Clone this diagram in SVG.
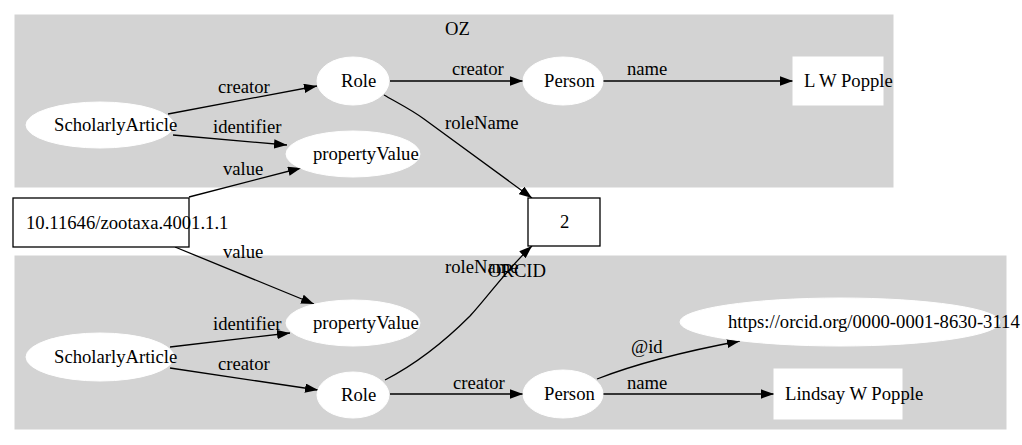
<svg xmlns="http://www.w3.org/2000/svg" width="1022" height="445" viewBox="0 0 1022 445">
<style>
text{font-family:"Liberation Serif","Times New Roman",serif;font-size:18.67px;fill:#000}
.cl{fill:#d3d3d3;stroke:#d3d3d3}
.el{fill:#fff;stroke:#fff}
.wb{fill:#fff;stroke:#fff}
.bb{fill:#fff;stroke:#000;stroke-width:1.3}
.e{fill:none;stroke:#000;stroke-width:1.3;marker-end:url(#ah)}
</style>
<defs>
<marker id="ah" markerUnits="userSpaceOnUse" viewBox="0 0 13 9.4" markerWidth="13" markerHeight="9.4" refX="13" refY="4.7" orient="auto">
<path d="M0,0 L13,4.7 L0,9.4 z" fill="#000"/>
</marker>
</defs>
<rect width="1022" height="445" fill="#fff"/>
<g id="cluster_OZ">
<rect class="cl" x="15" y="15" width="878" height="172"/>
<text x="445" y="35">OZ</text>
</g>
<g id="cluster_ORCID">
<rect class="cl" x="15" y="256" width="991" height="173"/>
<text x="488" y="277">ORCID</text>
</g>
<g id="edges">
<path class="e" d="M168,114 L317,86"/>
<text x="218" y="93">creator</text>
<path class="e" d="M173,135 L287,145"/>
<text x="213" y="133">identifier</text>
<path class="e" d="M189,197 L301,168"/>
<text x="223" y="175">value</text>
<path class="e" d="M390,81 L523,81"/>
<text x="452" y="75">creator</text>
<path class="e" d="M384,95 C398,103 412,110 424,119 L532,198"/>
<text x="445" y="129">roleName</text>
<path class="e" d="M603,81 L793,81"/>
<text x="627" y="75">name</text>
<path class="e" d="M175,247 L314,304"/>
<text x="223" y="258">value</text>
<path class="e" d="M170,347 L290,333"/>
<text x="213" y="330">identifier</text>
<path class="e" d="M170,368 L318,390"/>
<text x="218" y="370">creator</text>
<path class="e" d="M385,380 C420,362 448,338 470,316 C490,294 508,268 532,246"/>
<text x="445" y="273">roleName</text>
<path class="e" d="M390,394 L523,394"/>
<text x="453" y="389">creator</text>
<path class="e" d="M597,379 C620,370 660,356 740,341"/>
<text x="631" y="353">@id</text>
<path class="e" d="M603,394 L774,394"/>
<text x="627" y="389">name</text>
</g>
<g id="oz_ScholarlyArticle"><ellipse class="el" cx="100" cy="125" rx="74" ry="23"/><text x="54" y="131">ScholarlyArticle</text></g>
<g id="oz_Role"><ellipse class="el" cx="353" cy="81" rx="36" ry="24"/><text x="341" y="87">Role</text></g>
<g id="oz_propertyValue"><ellipse class="el" cx="353" cy="154" rx="67" ry="23"/><text x="313" y="160">propertyValue</text></g>
<g id="oz_Person"><ellipse class="el" cx="563" cy="81" rx="40" ry="24"/><text x="544" y="87">Person</text></g>
<g id="oz_name"><rect class="wb" x="793" y="57" width="90" height="48"/><text x="804" y="87">L W Popple</text></g>
<g id="roleName_2"><rect class="bb" x="528" y="198" width="72" height="48"/><text x="560" y="228">2</text></g>
<g id="doi"><rect class="bb" x="13" y="198" width="176" height="49" fill="none"/><text x="26" y="229">10.11646/zootaxa.4001.1.1</text></g>
<g id="orcid_propertyValue"><ellipse class="el" cx="353" cy="323" rx="67" ry="23"/><text x="313" y="329">propertyValue</text></g>
<g id="orcid_ScholarlyArticle"><ellipse class="el" cx="100" cy="357" rx="74" ry="24"/><text x="54" y="363">ScholarlyArticle</text></g>
<g id="orcid_Role"><ellipse class="el" cx="353" cy="395" rx="36" ry="23"/><text x="341" y="401">Role</text></g>
<g id="orcid_Person"><ellipse class="el" cx="563" cy="394" rx="40" ry="24"/><text x="544" y="400">Person</text></g>
<g id="orcid_id"><ellipse class="el" cx="840" cy="322" rx="160" ry="24"/><text x="728" y="328">https://orcid.org/0000-0001-8630-3114</text></g>
<g id="orcid_name"><rect class="wb" x="774" y="369" width="128" height="50"/><text x="785" y="400">Lindsay W Popple</text></g>
</svg>
